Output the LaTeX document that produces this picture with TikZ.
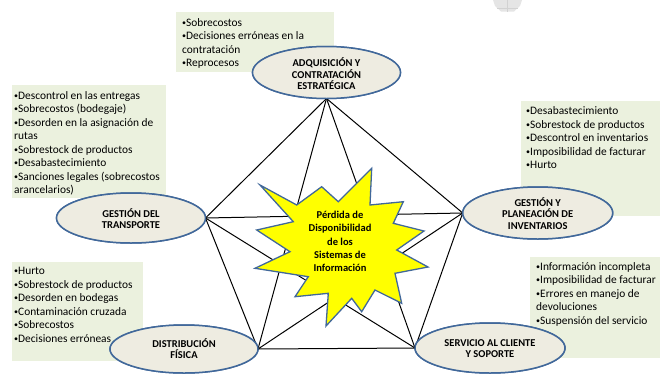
\documentclass[tikz,border=0pt]{standalone}
\usepackage{fontspec}
\setmainfont{Carlito}
\usetikzlibrary{shapes.geometric}
\definecolor{boxgreen}{HTML}{EBF1DE}
\definecolor{ellfill}{HTML}{EEECE1}
\definecolor{ellblue}{HTML}{41689A}
\definecolor{staryellow}{HTML}{FFFF00}
\newcommand\bul{\raisebox{0.6pt}{\fontsize{8}{8}\selectfont•}}
\tikzset{
  gbox/.style={fill=boxgreen, draw=none, inner sep=0pt, outer sep=0pt, anchor=north west},
  listtext/.style={anchor=base west, inner sep=0pt, align=left, font=\fontsize{11.4}{13.5}\selectfont},
  ell/.style={ellipse, draw=ellblue, line width=1.5pt, fill=ellfill, inner sep=0pt, outer sep=0pt},
  elltext/.style={align=center, inner sep=0pt, font=\bfseries\fontsize{10.5}{11.6}\selectfont},
  link/.style={draw=black, line width=1pt},
  startext/.style={align=center, inner sep=0pt, font=\bfseries\fontsize{10.5}{13.3}\selectfont},
}
\begin{document}
\begin{tikzpicture}[x=1pt,y=-1pt]
\useasboundingbox (0,0) rectangle (660,375);
% faint grey mark at top
\fill[gray!20] (493,0) -- (522,0) -- (520,6) -- (514,11.5) -- (501,11.5) -- (495,6) -- cycle;
\draw[gray!35, line width=0.4pt] (497,8) -- (518,8) (507,0) -- (507,11.5);

% green text boxes
\node[gbox, minimum width=158pt, minimum height=60pt] (bAdq) at (176,12) {};
\node[gbox, minimum width=154pt, minimum height=113pt] (bTra) at (12,85) {};
\node[gbox, minimum width=139pt, minimum height=115pt] (bInv) at (521,101) {};
\node[gbox, minimum width=131pt, minimum height=99pt] (bDis) at (12,262) {};
\node[gbox, minimum width=130pt, minimum height=101pt] (bSer) at (530,257) {};

% list texts (anchored at the baseline of their last line)
\node[listtext] (tAdq) at (182,66.5) {\bul Sobrecostos\\\bul Decisiones erróneas en la\\contratación\\\bul Reprocesos};
\node[listtext] (tTra) at (14,193.5) {\bul Descontrol en las entregas\\\bul Sobrecostos (bodegaje)\\\bul Desorden en la asignación de\\rutas\\\bul Sobrestock de productos\\\bul Desabastecimiento\\\bul Sanciones legales (sobrecostos\\arancelarios)};
\node[listtext] (tInv) at (526,168.5) {\bul Desabastecimiento\\\bul Sobrestock de productos\\\bul Descontrol en inventarios\\\bul Imposibilidad de facturar\\\bul Hurto};
\node[listtext] (tDis) at (14,342) {\bul Hurto\\\bul Sobrestock de productos\\\bul Desorden en bodegas\\\bul Contaminación cruzada\\\bul Sobrecostos\\\bul Decisiones erróneas};
\node[listtext] (tSer) at (536,324) {\bul Información incompleta\\\bul Imposibilidad de facturar\\\bul Errores en manejo de\\devoluciones\\\bul Suspensión del servicio};

% ellipses (shapes defined first, drawn later on top)
\path
  (326.5,72.5) node[ell, minimum width=148pt, minimum height=52pt] (adq) {}
  (131,218)    node[ell, minimum width=149pt, minimum height=50pt] (tra) {}
  (537.7,213)  node[ell, minimum width=150pt, minimum height=52pt] (inv) {}
  (184,349)    node[ell, minimum width=148pt, minimum height=48pt] (dis) {}
  (490,348)    node[ell, minimum width=150pt, minimum height=50pt] (ser) {};

% connectors: complete graph between the five processes
\draw[link] (adq.south) -- (tra.east);
\draw[link] (adq.south) -- (inv.west);
\draw[link] (adq.south) -- (dis.east);
\draw[link] (adq.south) -- (ser.west);
\draw[link] (tra.east) -- (inv.west);
\draw[link] (tra.east) -- (dis.east);
\draw[link] (tra.east) -- (ser.west);
\draw[link] (inv.west) -- (dis.east);
\draw[link] (inv.west) -- (ser.west);
\draw[link] (dis.east) -- (ser.west);

% central explosion
\filldraw[fill=staryellow, draw=ellblue, line width=1.3pt, line join=miter]
  (260,185) -- (296.7,205) -- (321.7,186.7) -- (338.3,201.7) -- (371.7,168.3)
  -- (370,205) -- (403.3,201.7) -- (393.3,223.3) -- (424,231) -- (396.7,250)
  -- (428,267) -- (395,273.3) -- (401.7,303.3) -- (375,290) -- (361.7,311.7)
  -- (351.7,298.3) -- (326,326) -- (328.3,293.3) -- (295,296.7) -- (308.3,276.7)
  -- (255,268.3) -- (290,251.7) -- (256.7,230) -- (293.3,221.7) -- cycle;
\node[startext] (core) at (340,241.5) {Pérdida de\\Disponibilidad\\de los\\Sistemas de\\Información};

% redraw ellipses on top of the connectors
\path
  (326.5,72.5) node[ell, minimum width=148pt, minimum height=52pt] {}
  (131,218)    node[ell, minimum width=149pt, minimum height=50pt] {}
  (537.7,213)  node[ell, minimum width=150pt, minimum height=52pt] {}
  (184,349)    node[ell, minimum width=148pt, minimum height=48pt] {}
  (490,348)    node[ell, minimum width=150pt, minimum height=50pt] {};

\node[elltext] (lAdq) at (326.5,74) {ADQUISICIÓN Y\\CONTRATACIÓN\\ESTRATÉGICA};
\node[elltext] (lTra) at (131,218.5) {GESTIÓN DEL\\TRANSPORTE};
\node[elltext] (lInv) at (537.7,213.5) {GESTIÓN Y\\PLANEACIÓN DE\\INVENTARIOS};
\node[elltext] (lDis) at (184,348.5) {DISTRIBUCIÓN\\FÍSICA};
\node[elltext] (lSer) at (490,348.5) {SERVICIO AL CLIENTE\\Y SOPORTE};
\end{tikzpicture}
\end{document}
